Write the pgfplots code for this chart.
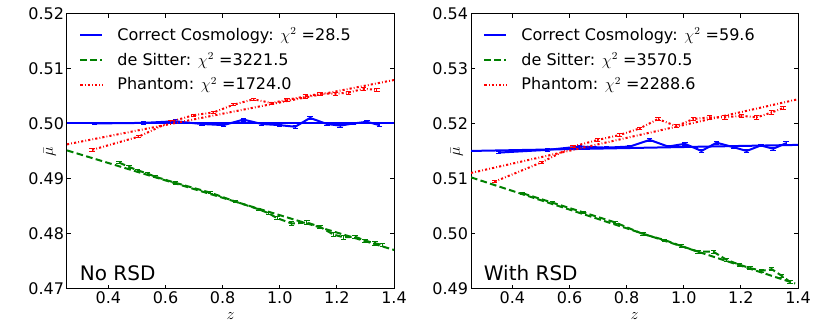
\documentclass[border=0pt]{standalone}
\usepackage{pgfplots}
\pgfplotsset{compat=1.18}
\usepackage{pgfplotstable}
\usepackage{fontspec}
\setmainfont{DejaVu Sans}

% measured data: z, mu, error
\pgfplotstableread{
z mu e
0.352 0.5001 0.0002
0.523 0.5002 0.0002
0.634 0.5005 0.0003
0.728 0.5000 0.0002
0.803 0.4998 0.0002
0.873 0.5008 0.0003
0.937 0.5000 0.0002
0.998 0.4998 0.0002
1.054 0.4995 0.0003
1.106 0.5011 0.0003
1.165 0.5000 0.0002
1.211 0.4997 0.0003
1.258 0.5001 0.0002
1.305 0.5004 0.0003
1.349 0.4998 0.0003
}\blueL
\pgfplotstableread{
z mu e
0.437 0.4930 0.0002
0.472 0.4922 0.0002
0.501 0.4916 0.0002
0.536 0.4910 0.0002
0.565 0.4904 0.0002
0.635 0.4893 0.0002
0.758 0.4875 0.0002
0.844 0.4859 0.0002
0.926 0.4845 0.0002
0.960 0.4838 0.0002
0.990 0.4829 0.0003
1.042 0.4819 0.0003
1.095 0.4821 0.0003
1.141 0.4813 0.0003
1.188 0.4799 0.0003
1.223 0.4794 0.0003
1.264 0.4795 0.0003
1.299 0.4788 0.0003
1.334 0.4783 0.0003
1.360 0.4780 0.0003
}\greenL
\pgfplotstableread{
z mu e
0.343 0.4953 0.0002
0.506 0.4977 0.0002
0.617 0.5004 0.0002
0.698 0.5016 0.0002
0.768 0.5021 0.0002
0.838 0.5035 0.0002
0.908 0.5045 0.0002
0.972 0.5038 0.0002
1.025 0.5044 0.0003
1.089 0.5050 0.0003
1.141 0.5055 0.0003
1.194 0.5055 0.0003
1.240 0.5057 0.0003
1.293 0.5064 0.0003
1.340 0.5062 0.0003
}\redL
\pgfplotstableread{
z mu e
0.352 0.5148 0.0002
0.524 0.5153 0.0002
0.635 0.5159 0.0002
0.729 0.5157 0.0002
0.811 0.5159 0.0002
0.881 0.5171 0.0003
0.945 0.5159 0.0002
1.004 0.5164 0.0003
1.062 0.5151 0.0003
1.115 0.5166 0.0003
1.173 0.5158 0.0002
1.220 0.5151 0.0003
1.270 0.5161 0.0002
1.313 0.5155 0.0003
1.358 0.5165 0.0003
}\blueR
\pgfplotstableread{
z mu e
0.436 0.5074 0.0002
0.540 0.5057 0.0002
0.650 0.5039 0.0002
0.760 0.5021 0.0002
0.857 0.5000 0.0002
0.933 0.4989 0.0002
0.992 0.4978 0.0003
1.050 0.4968 0.0003
1.103 0.4968 0.0003
1.150 0.4953 0.0003
1.196 0.4944 0.0003
1.232 0.4938 0.0003
1.273 0.4933 0.0003
1.308 0.4936 0.0003
1.343 0.4924 0.0003
1.372 0.4913 0.0003
}\greenR
\pgfplotstableread{
z mu e
0.337 0.5095 0.0002
0.501 0.5130 0.0002
0.612 0.5159 0.0002
0.699 0.5171 0.0002
0.775 0.5180 0.0002
0.846 0.5192 0.0002
0.910 0.5209 0.0003
0.974 0.5196 0.0003
1.033 0.5209 0.0003
1.091 0.5212 0.0003
1.144 0.5212 0.0003
1.202 0.5215 0.0003
1.255 0.5212 0.0003
1.308 0.5221 0.0003
1.348 0.5229 0.0003
}\redR

\definecolor{mplgreen}{rgb}{0,0.5,0}
\tikzset{
  greendash/.style={dash pattern=on 5pt off 2.5pt},
  reddash/.style={dash pattern=on 1.6pt off 1.6pt on 0.6pt off 1.6pt},
}
\pgfplotsset{
  panel/.style={
    width=245.25pt, height=206.25pt, scale only axis,
    xmin=0.255, xmax=1.4,
    xtick={0.4,0.6,0.8,1.0,1.2,1.4},
    xticklabels={{0.4},{0.6},{0.8},{1.0},{1.2},{1.4}},
    scaled ticks=false,
    tick align=inside, major tick length=3pt,
    axis line style={black, line width=0.75pt},
    tick style={black, line width=0.75pt},
    tick label style={font=\fontsize{12}{14}\selectfont},
    xticklabel style={inner sep=1pt, yshift=-1pt},
    yticklabel style={inner sep=2pt, anchor=east},
    xlabel={$z$},
    xlabel style={at={(axis description cs:0.5,-0.097)}, anchor=center, font=\fontsize{12}{14}\selectfont},
    ylabel={$\bar{\mu}$},
    ylabel style={at={(axis description cs:-0.052,0.5)}, anchor=center, font=\fontsize{13}{15}\selectfont},
    legend style={draw=none, fill=none, at={(axis description cs:0.025,0.97)}, anchor=north west,
      font=\fontsize{12}{14}\selectfont, row sep=3.5pt, legend cell align=left},
    legend image code/.code={\draw[##1] (0pt,0pt) -- (16.5pt,0pt); \path (25pt,0pt);},
    error bars/error bar style={line width=0.6pt, solid},
    error bars/error mark options={line width=0.6pt, mark size=2pt, rotate=90, solid},
  },
}

\begin{document}
\begin{tikzpicture}
\begin{axis}[panel,
  ymin=0.47, ymax=0.52,
  ytick={0.47,0.48,0.49,0.5,0.51,0.52},
  yticklabels={{0.47},{0.48},{0.49},{0.50},{0.51},{0.52}}]
\addplot[blue, line width=1.5pt, forget plot, error bars/.cd, y dir=both, y explicit]
  table[x=z, y=mu, y error=e] {\blueL};
\addplot[mplgreen, line width=1.5pt, greendash, forget plot, error bars/.cd, y dir=both, y explicit]
  table[x=z, y=mu, y error=e] {\greenL};
\addplot[red, line width=1.5pt, reddash, forget plot, error bars/.cd, y dir=both, y explicit]
  table[x=z, y=mu, y error=e] {\redL};
\addplot[blue, line width=1.5pt] coordinates {(0.255,0.5002) (1.4,0.5002)};
\addlegendentry{Correct Cosmology: $\chi^2$ =28.5}
\addplot[mplgreen, line width=1.5pt, greendash] coordinates {(0.255,0.4952) (1.4,0.4771)};
\addlegendentry{de Sitter: $\chi^2$ =3221.5}
\addplot[red, line width=1.5pt, reddash] coordinates {(0.255,0.4963) (1.4,0.5080)};
\addlegendentry{Phantom: $\chi^2$ =1724.0}
\node[anchor=base west, font=\fontsize{15}{18}\selectfont] at (axis description cs:0.025,0.03) {No RSD};
\end{axis}

\begin{axis}[panel, at={(303pt,0pt)},
  ymin=0.49, ymax=0.54,
  ytick={0.49,0.5,0.51,0.52,0.53,0.54},
  yticklabels={{0.49},{0.50},{0.51},{0.52},{0.53},{0.54}},
  ylabel style={at={(axis description cs:-0.043,0.5)}}]
\addplot[blue, line width=1.5pt, forget plot, error bars/.cd, y dir=both, y explicit]
  table[x=z, y=mu, y error=e] {\blueR};
\addplot[mplgreen, line width=1.5pt, greendash, forget plot, error bars/.cd, y dir=both, y explicit]
  table[x=z, y=mu, y error=e] {\greenR};
\addplot[red, line width=1.5pt, reddash, forget plot, error bars/.cd, y dir=both, y explicit]
  table[x=z, y=mu, y error=e] {\redR};
\addplot[blue, line width=1.5pt] coordinates {(0.255,0.5151) (1.4,0.5162)};
\addlegendentry{Correct Cosmology: $\chi^2$ =59.6}
\addplot[mplgreen, line width=1.5pt, greendash] coordinates {(0.255,0.5103) (1.39,0.4910)};
\addlegendentry{de Sitter: $\chi^2$ =3570.5}
\addplot[red, line width=1.5pt, reddash] coordinates {(0.255,0.5111) (1.4,0.5245)};
\addlegendentry{Phantom: $\chi^2$ =2288.6}
\node[anchor=base west, font=\fontsize{15}{18}\selectfont] at (axis description cs:0.025,0.03) {With RSD};
\end{axis}
\path (-50.25pt,-28.5pt) rectangle (562.5pt,216.75pt);
\end{tikzpicture}
\end{document}
